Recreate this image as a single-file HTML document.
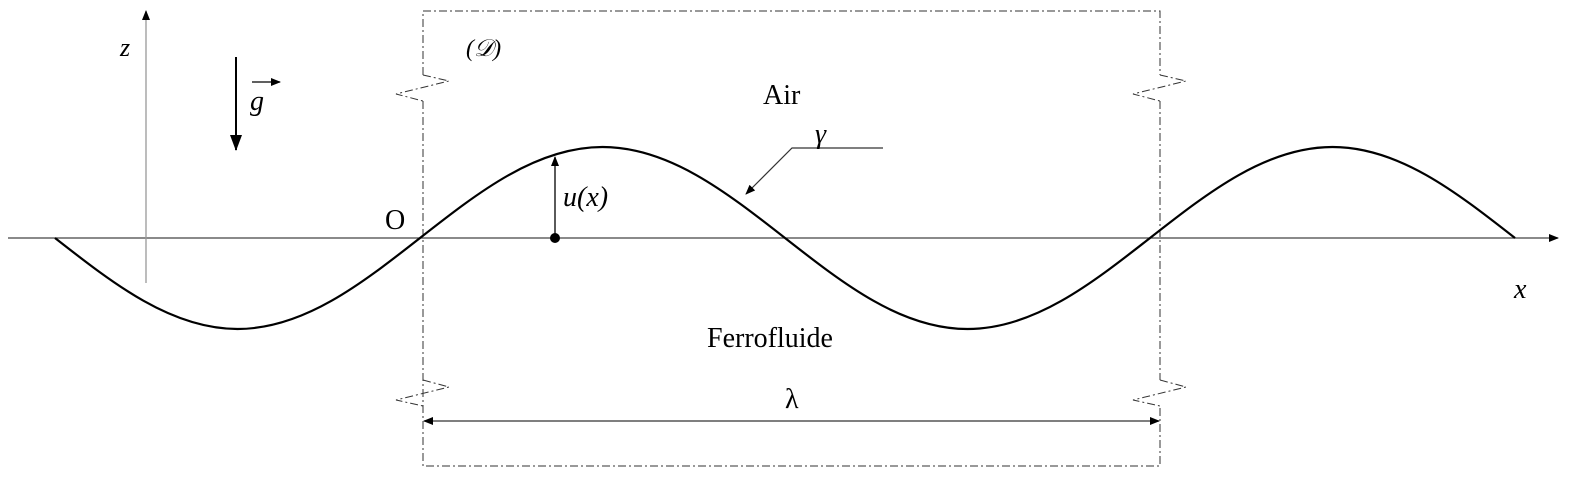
<!DOCTYPE html>
<html><head><meta charset="utf-8"><style>
html,body{margin:0;padding:0;background:#fff;}
svg{display:block;}
text{font-family:"Liberation Serif",serif;fill:#000;}
</style></head><body>
<svg width="1583" height="481" viewBox="0 0 1583 481" xmlns="http://www.w3.org/2000/svg">
<defs>
<marker id="a" markerWidth="10" markerHeight="8" refX="9" refY="4" orient="auto" markerUnits="userSpaceOnUse"><path d="M0,0 L10,4 L0,8 Z" fill="#000"/></marker>
<marker id="b" markerWidth="16" markerHeight="12" refX="15" refY="6" orient="auto" markerUnits="userSpaceOnUse"><path d="M0,0 L16,6 L0,12 Z" fill="#000"/></marker>
<marker id="s" markerWidth="10" markerHeight="8" refX="1" refY="4" orient="auto" markerUnits="userSpaceOnUse"><path d="M10,0 L0,4 L10,8 Z" fill="#000"/></marker>
</defs>
<!-- dashed box with breaks -->
<g fill="none" stroke="#333" stroke-width="1" stroke-dasharray="8,3,2,3">
<path d="M423,101 L423,466 L1160,466 L1160,406"/>
<path d="M423,75 L423,11 L1160,11 L1160,75"/>
<path d="M423,75 L449,81 L396,94 L423,101"/>
<path d="M1160,75 L1186,81 L1133,94 L1160,101"/>
<path d="M1160,101 L1160,380"/>
<path d="M423,380 L449,387 L396,400 L423,406"/>
<path d="M1160,380 L1186,387 L1133,400 L1160,406"/>
</g>
<!-- axes -->
<line x1="8" y1="238" x2="1558" y2="238" stroke="#444" stroke-width="1.3" marker-end="url(#a)"/>
<line x1="146" y1="283" x2="146" y2="11" stroke="#999" stroke-width="1.3" marker-end="url(#a)"/>
<!-- g -->
<line x1="236" y1="57" x2="236" y2="150" stroke="#000" stroke-width="2" marker-end="url(#b)"/>
<line x1="252" y1="82" x2="280" y2="82" stroke="#000" stroke-width="1.2" marker-end="url(#a)"/>
<!-- wave -->
<path fill="none" stroke="#000" stroke-width="2.2" d="M55,238 c59.5,46.6 116.5,91 182.5,91 c66,0 123,-44.4 182.5,-91 c59.5,-46.6 116.5,-91 182.5,-91 c66,0 123,44.4 182.5,91 c59.5,46.6 116.5,91 182.5,91 c66,0 123,-44.4 182.5,-91 c59.5,-46.6 116.5,-91 182.5,-91 c66,0 123,44.4 182.5,91"/>
<!-- u(x) -->
<line x1="555" y1="238" x2="555" y2="157" stroke="#000" stroke-width="1.3" marker-end="url(#a)"/>
<circle cx="555" cy="238" r="5" fill="#000"/>
<!-- gamma leader -->
<polyline points="883,148 792,148 746,194" fill="none" stroke="#333" stroke-width="1.2" marker-end="url(#a)"/>
<!-- lambda -->
<line x1="424" y1="421" x2="1159" y2="421" stroke="#333" stroke-width="1.2" marker-start="url(#s)" marker-end="url(#a)"/>
<!-- labels -->
<text x="120" y="56" font-size="26" font-style="italic">z</text>
<text x="250" y="110" font-size="28" font-style="italic">g</text>
<text x="466" y="56" font-size="24" font-style="italic">(𝒟)</text>
<text x="763" y="104" font-size="28">Air</text>
<text x="815" y="143" font-size="28" font-style="italic">γ</text>
<text x="563" y="206" font-size="28" font-style="italic">u(x)</text>
<text x="385" y="229" font-size="28">O</text>
<text x="1514" y="298" font-size="28" font-style="italic">x</text>
<text x="707" y="347" font-size="28">Ferrofluide</text>
<text x="785" y="408" font-size="28">λ</text>
</svg>
</body></html>
